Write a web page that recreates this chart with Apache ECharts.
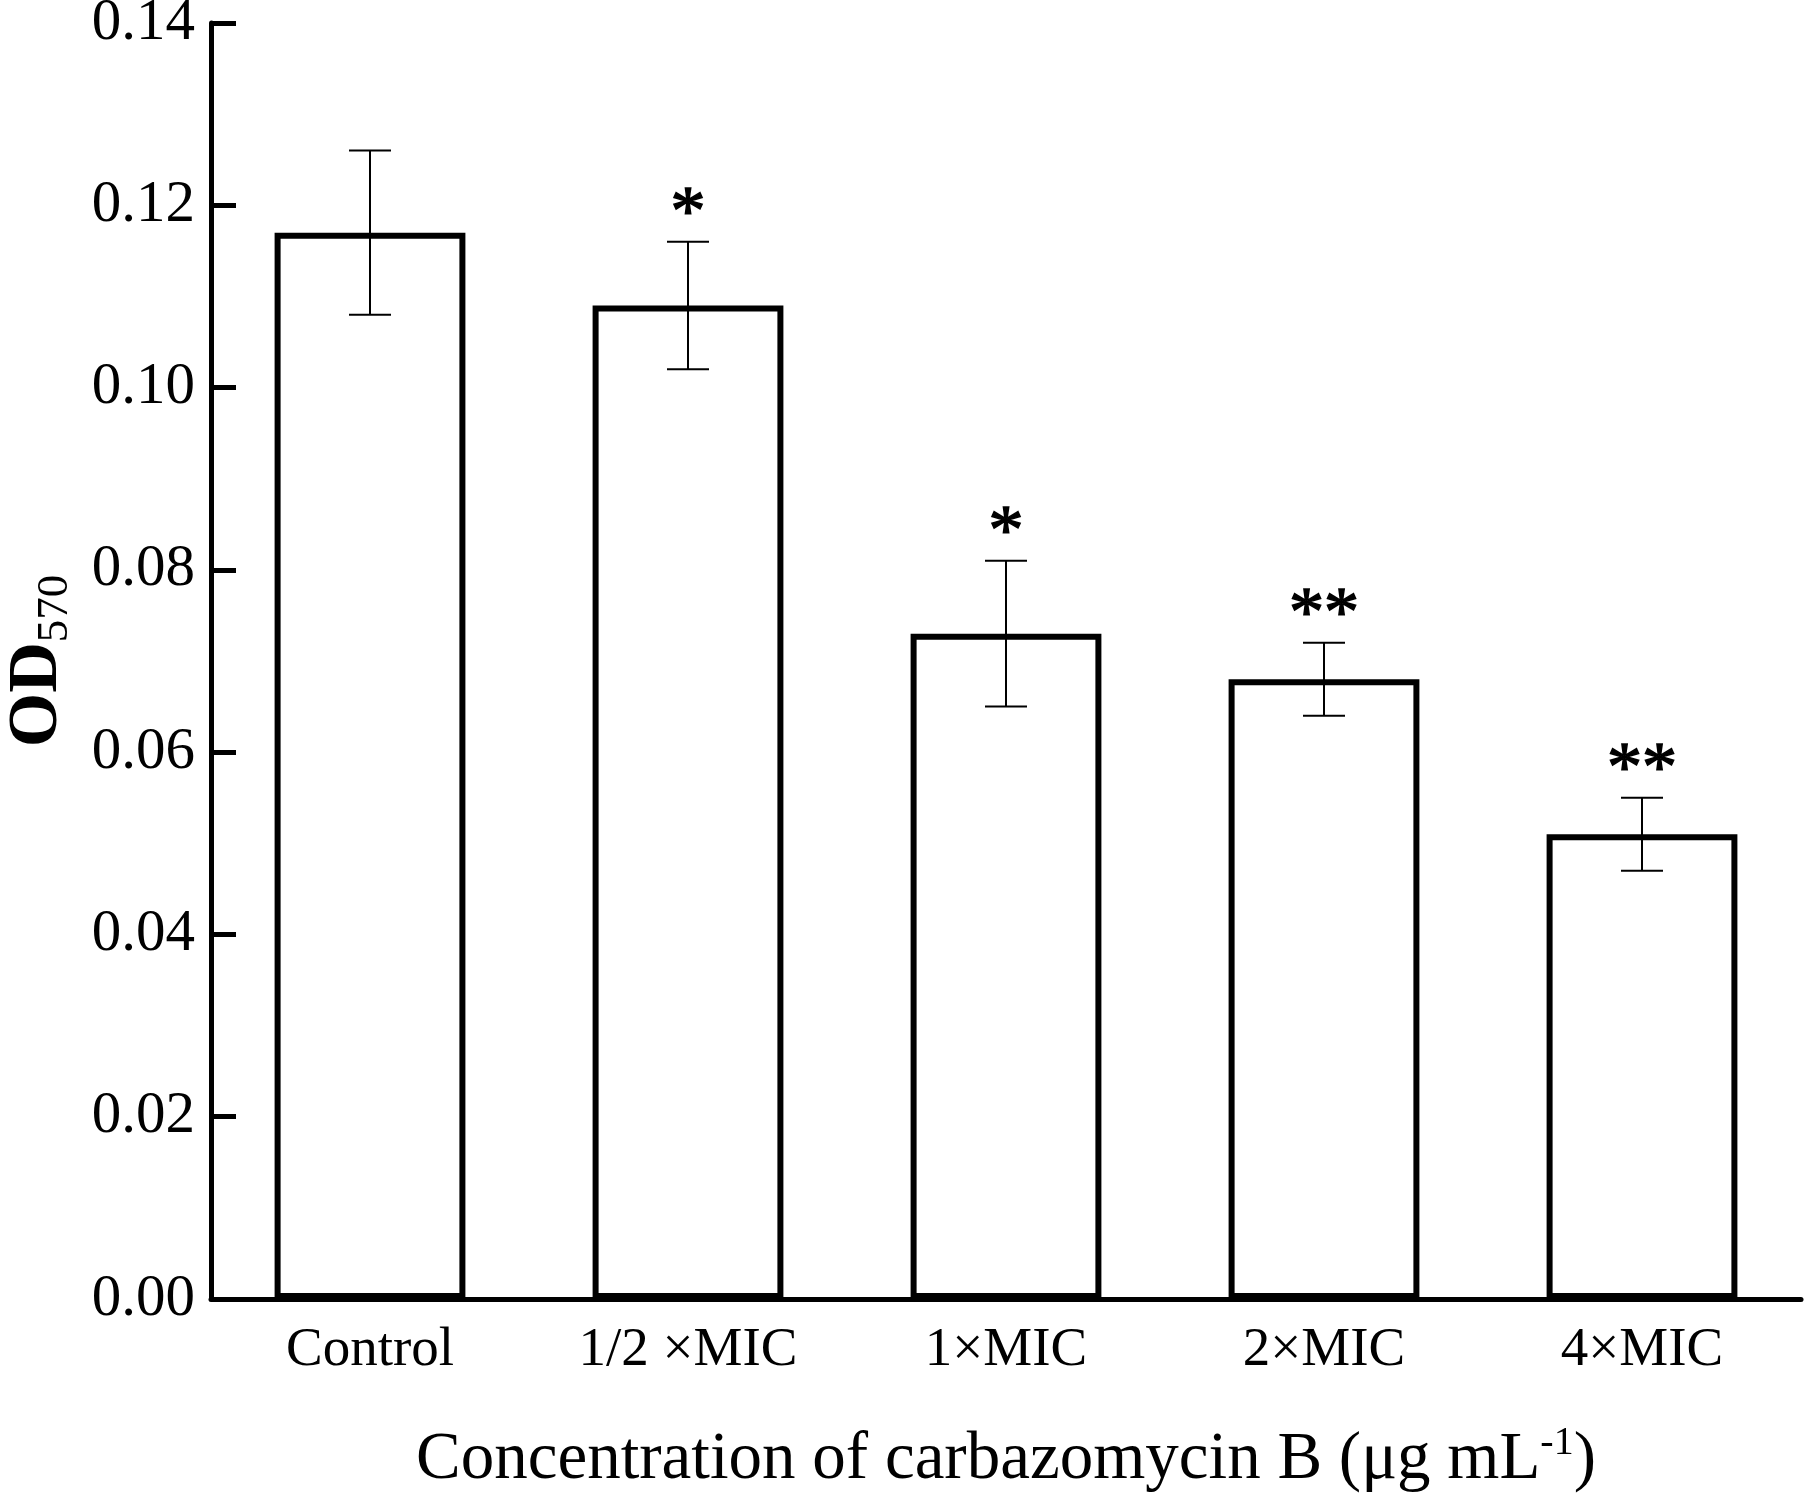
<!DOCTYPE html>
<html>
<head>
<meta charset="utf-8">
<script src="https://cdn.jsdelivr.net/npm/echarts@6/dist/echarts.min.js"></script>
<style>
  html, body { margin: 0; padding: 0; background: #fff; }
  #chart { width: 1807px; height: 1496px; }
</style>
</head>
<body>
<div id="chart"></div>
<script>
// data
var categories = ['Control', '1/2 \u00d7MIC', '1\u00d7MIC', '2\u00d7MIC', '4\u00d7MIC'];
var means = [0.117, 0.109, 0.073, 0.068, 0.051];
var errors = [0.009, 0.007, 0.008, 0.004, 0.004];
var marks = ['', '*', '*', '**', '**'];
var yTicks = { min: 0, max: 0.14, step: 0.02 };

var FONT = '"Liberation Serif", "Times New Roman", serif';

var errData = means.map(function(m, i) {
  return [i, m - errors[i], m + errors[i], marks[i]];
});

var chart = echarts.init(document.getElementById('chart'));
chart.setOption({
  backgroundColor: '#fff',
  animation: false,
  grid: { left: 211, right: 6, top: 23, bottom: 197, containLabel: false, outerBoundsMode: 'none' },
  xAxis: {
    type: 'category',
    data: categories,
    axisLine: { lineStyle: { color: '#000', width: 5 } },
    axisTick: { show: false },
    axisLabel: { color: '#000', fontFamily: FONT, fontSize: 55, margin: 24 },
    name: '{t|Concentration of carbazomycin B (\u03bcg mL}{s|-1}{t|)}',
    nameLocation: 'middle',
    nameGap: 124,
    nameTextStyle: {
      rich: {
        t: { fontFamily: FONT, fontSize: 67, color: '#000', lineHeight: 74 },
        s: { fontFamily: FONT, fontSize: 40, color: '#000', verticalAlign: 'top', lineHeight: 74 }
      }
    }
  },
  yAxis: {
    type: 'value',
    min: yTicks.min,
    max: yTicks.max,
    interval: yTicks.step,
    splitLine: { show: false },
    axisLine: { show: true, lineStyle: { color: '#000', width: 5 } },
    axisTick: { show: true, inside: true, length: 25, lineStyle: { color: '#000', width: 5 } },
    axisLabel: {
      color: '#000', fontFamily: FONT, fontSize: 59, margin: 16,
      formatter: function(v) { return v.toFixed(2); }
    },
    name: '{a|OD}{b|570}',
    nameLocation: 'middle',
    nameRotate: 90,
    nameGap: 133,
    nameMoveOverlap: false,
    nameTextStyle: {
      rich: {
        a: { fontFamily: FONT, fontSize: 70, fontWeight: 'bold', color: '#000', lineHeight: 80 },
        b: { fontFamily: FONT, fontSize: 45, color: '#000', verticalAlign: 'bottom', lineHeight: 80 }
      }
    }
  },
  series: [
    {
      type: 'bar',
      data: means,
      barWidth: '60%',
      itemStyle: { color: '#fff', borderColor: '#000', borderWidth: 6 }
    },
    {
      type: 'custom',
      data: errData,
      z: 10,
      renderItem: function(params, api) {
        var i = api.value(0);
        var lo = api.coord([i, api.value(1)]);
        var hi = api.coord([i, api.value(2)]);
        var cap = 21;
        var style = { stroke: '#000', lineWidth: 2 };
        var els = [
          { type: 'line', shape: { x1: hi[0], y1: hi[1], x2: lo[0], y2: lo[1] }, style: style },
          { type: 'line', shape: { x1: hi[0] - cap, y1: hi[1], x2: hi[0] + cap, y2: hi[1] }, style: style },
          { type: 'line', shape: { x1: lo[0] - cap, y1: lo[1], x2: lo[0] + cap, y2: lo[1] }, style: style }
        ];
        var mk = marks[i];
        if (mk) {
          els.push({
            type: 'text',
            style: {
              text: mk, x: hi[0], y: hi[1] + 9,
              align: 'center', verticalAlign: 'bottom',
              fontFamily: FONT, fontSize: 70, fill: '#000',
              stroke: '#000', lineWidth: 1.5
            }
          });
        }
        return { type: 'group', children: els };
      }
    }
  ]
});
</script>
</body>
</html>
